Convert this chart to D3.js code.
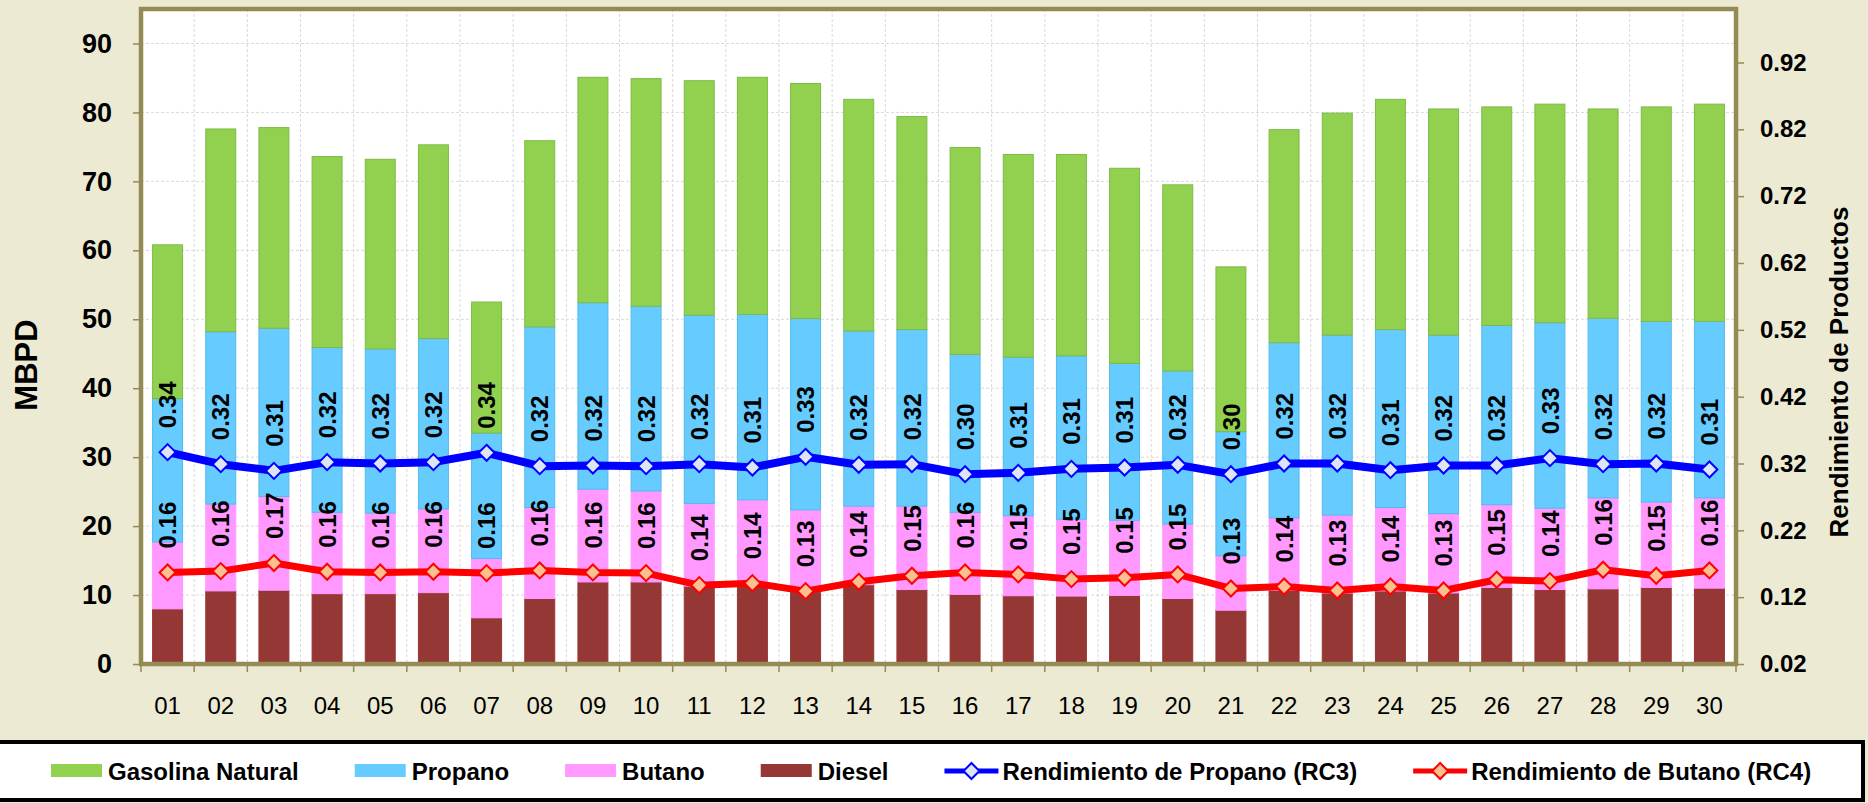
<!DOCTYPE html>
<html>
<head>
<meta charset="utf-8">
<script src="https://cdn.jsdelivr.net/npm/d3@7"></script>
<style>
  html, body { margin: 0; padding: 0; background: #ECEAD3; }
  svg { display: block; font-family: "Liberation Sans", Arial, sans-serif; }
</style>
</head>
<body>
<script>
// ---- data ----
const days = ["01","02","03","04","05","06","07","08","09","10","11","12","13","14","15",
              "16","17","18","19","20","21","22","23","24","25","26","27","28","29","30"];

const diesel   = [8.0,10.6,10.7,10.2,10.2,10.35,6.7,9.5,11.9,11.9,11.3,11.3,10.5,11.5,10.8,
                  10.1,9.9,9.85,9.95,9.5,7.8,10.7,10.3,10.6,10.3,11.1,10.8,10.9,11.1,11.0];
const butano   = [9.7,12.6,13.6,11.8,11.7,12.15,8.6,13.2,13.45,13.2,12.0,12.5,11.85,11.4,12.1,
                  11.9,11.6,11.15,10.9,10.8,7.9,10.5,11.3,12.1,11.5,12.0,11.8,13.2,12.4,13.1];
const propano  = [20.8,25.0,24.4,23.9,23.8,24.7,18.2,26.2,27.05,26.8,27.3,26.9,27.75,25.4,25.6,
                  22.9,23.0,23.7,22.75,22.2,18.0,25.4,26.1,25.8,25.9,26.0,26.9,26.05,26.2,25.6];
const gasolina = [22.3,29.4,29.1,27.7,27.5,28.1,19.0,27.0,32.7,33.0,34.0,34.4,34.1,33.6,30.9,
                  30.0,29.4,29.2,28.3,27.0,23.9,30.9,32.2,33.4,32.8,31.7,31.7,30.35,31.1,31.5];

const rc3 = [0.337,0.319,0.309,0.322,0.320,0.322,0.336,0.316,0.317,0.316,0.319,0.314,0.330,0.318,0.319,
             0.304,0.306,0.312,0.314,0.318,0.304,0.320,0.320,0.310,0.317,0.317,0.328,0.319,0.320,0.311];
const rc4 = [0.157,0.159,0.171,0.158,0.157,0.158,0.156,0.160,0.157,0.156,0.138,0.141,0.129,0.143,0.152,
             0.157,0.154,0.147,0.149,0.154,0.133,0.136,0.130,0.136,0.130,0.146,0.144,0.161,0.152,0.160];

const leftTicks  = [0,10,20,30,40,50,60,70,80,90];
const rightTicks = [0.02,0.12,0.22,0.32,0.42,0.52,0.62,0.72,0.82,0.92];

const barSeries = [
  { key: "diesel",   name: "Diesel",           values: diesel,   fill: "#953735", edge: "#953735" },
  { key: "butano",   name: "Butano",           values: butano,   fill: "#FF99FF", edge: "#FF99FF" },
  { key: "propano",  name: "Propano",          values: propano,  fill: "#66CCFF", edge: "#55B8EC" },
  { key: "gasolina", name: "Gasolina Natural", values: gasolina, fill: "#92D050", edge: "#7DBB44" }
];
const lineSeries = [
  { name: "Rendimiento de Propano (RC3)", values: rc3, stroke: "#0000FF", width: 8, marker: "#DCE6F2" },
  { name: "Rendimiento de Butano (RC4)",  values: rc4, stroke: "#FF0000", width: 7, marker: "#FAC090" }
];
const legendOrder = ["Gasolina Natural", "Propano", "Butano", "Diesel",
                     "Rendimiento de Propano (RC3)", "Rendimiento de Butano (RC4)"];

// ---- layout ----
const WIDTH = 1868, HEIGHT = 803;
const PLOT = { left: 141, right: 1736, top: 9, bottom: 664 };

const svg = d3.select("body").append("svg")
  .attr("width", WIDTH).attr("height", HEIGHT)
  .attr("viewBox", `0 0 ${WIDTH} ${HEIGHT}`);

svg.append("rect").attr("width", WIDTH).attr("height", HEIGHT).attr("fill", "#ECEAD3");

const x = d3.scaleBand().domain(days).range([PLOT.left, PLOT.right])
  .paddingInner(0.436).paddingOuter(0.218);
const step = x.step();
const xEdge = d => PLOT.left + days.indexOf(d) * step; // category boundary

const yL = d3.scaleLinear().domain([0, 95]).range([PLOT.bottom, PLOT.top]);
const yR = d3.scaleLinear().domain([0.02, 1.0]).range([PLOT.bottom, PLOT.top]);

// plot background
svg.append("rect")
  .attr("x", PLOT.left).attr("y", PLOT.top)
  .attr("width", PLOT.right - PLOT.left).attr("height", PLOT.bottom - PLOT.top)
  .attr("fill", "#fff");

// grid
const grid = svg.append("g").attr("stroke", "#D9D9D9").attr("stroke-width", 1)
  .attr("stroke-dasharray", "3,2");
grid.selectAll("line.h").data(leftTicks.slice(1)).join("line")
  .attr("x1", PLOT.left).attr("x2", PLOT.right)
  .attr("y1", d => yL(d)).attr("y2", d => yL(d));
grid.selectAll("line.v").data(days.slice(1)).join("line")
  .attr("x1", d => xEdge(d)).attr("x2", d => xEdge(d))
  .attr("y1", PLOT.top).attr("y2", PLOT.bottom);

// ---- stacked bars ----
const table = days.map((d, i) => {
  const row = { day: d };
  barSeries.forEach(s => row[s.key] = s.values[i]);
  return row;
});
const stacked = d3.stack().keys(barSeries.map(s => s.key))(table);

svg.append("g").selectAll("g").data(stacked).join("g")
  .attr("fill", (d, i) => barSeries[i].fill)
  .attr("stroke", (d, i) => barSeries[i].edge)
  .attr("stroke-width", 1)
  .selectAll("rect").data(d => d).join("rect")
  .attr("x", d => x(d.data.day))
  .attr("width", x.bandwidth())
  .attr("y", d => yL(d[1]))
  .attr("height", d => yL(d[0]) - yL(d[1]));

// ---- plot border ----
svg.append("rect")
  .attr("x", PLOT.left).attr("y", PLOT.top)
  .attr("width", PLOT.right - PLOT.left).attr("height", PLOT.bottom - PLOT.top)
  .attr("fill", "none").attr("stroke", "#948A54").attr("stroke-width", 4.5);

// ---- axes ----
const axisL = svg.append("g").attr("transform", `translate(${PLOT.left - 2},0)`)
  .call(d3.axisLeft(yL).tickValues(leftTicks).tickSize(6).tickPadding(21).tickFormat(d3.format("d")));
const axisR = svg.append("g").attr("transform", `translate(${PLOT.right + 2},0)`)
  .call(d3.axisRight(yR).tickValues(rightTicks).tickSize(6).tickPadding(16).tickFormat(d3.format(".2f")));
const axisB = svg.append("g").attr("transform", `translate(0,${PLOT.bottom + 2})`)
  .call(d3.axisBottom(x).tickSize(0).tickPadding(31));

[axisL, axisR, axisB].forEach(a => {
  a.select(".domain").remove();
  a.selectAll(".tick line").attr("stroke", "#948A54").attr("stroke-width", 1.5);
  a.selectAll("text").attr("fill", "#000");
});
axisL.selectAll("text").attr("font-size", 27).attr("font-weight", "bold");
axisR.selectAll("text").attr("font-size", 24).attr("font-weight", "bold");
axisB.selectAll("text").attr("font-size", 24);

// category boundary ticks below the plot
svg.append("g").selectAll("line").data(days.concat(["end"])).join("line")
  .attr("x1", (d, i) => PLOT.left + i * step).attr("x2", (d, i) => PLOT.left + i * step)
  .attr("y1", PLOT.bottom + 2).attr("y2", PLOT.bottom + 8)
  .attr("stroke", "#948A54").attr("stroke-width", 1.5);

// axis titles
svg.append("text")
  .attr("transform", "translate(26,365) rotate(-90)")
  .attr("text-anchor", "middle").attr("dy", "0.35em")
  .attr("font-size", 31).attr("font-weight", "bold").text("MBPD");
svg.append("text")
  .attr("transform", "translate(1839,372) rotate(-90)")
  .attr("text-anchor", "middle").attr("dy", "0.35em")
  .attr("font-size", 26).attr("font-weight", "bold").text("Rendimiento de Productos");

// ---- yield lines ----
const diamond = r => `M0,${-r}L${r},0L0,${r}L${-r},0Z`;
const cx = d => x(d) + x.bandwidth() / 2;

lineSeries.forEach(s => {
  const pts = days.map((d, i) => [cx(d), yR(s.values[i])]);
  svg.append("path")
    .attr("d", d3.line()(pts))
    .attr("fill", "none").attr("stroke", s.stroke).attr("stroke-width", s.width)
    .attr("stroke-linejoin", "round");
  svg.append("g").selectAll("path").data(pts).join("path")
    .attr("transform", p => `translate(${p[0]},${p[1]})`)
    .attr("d", diamond(8))
    .attr("fill", s.marker).attr("stroke", s.stroke).attr("stroke-width", 2);
  // data labels, rotated, above each point
  svg.append("g").selectAll("text").data(pts).join("text")
    .attr("transform", p => `translate(${p[0]},${p[1] - 24}) rotate(-90)`)
    .attr("dy", "0.36em")
    .attr("font-size", 24).attr("font-weight", "bold").attr("fill", "#000")
    .text((p, i) => s.values[i].toFixed(2));
});

// ---- legend ----
svg.append("rect")
  .attr("x", -3).attr("y", 742).attr("width", 1866).attr("height", 58)
  .attr("fill", "#fff").attr("stroke", "#000").attr("stroke-width", 4);

const legendItems = legendOrder.map(name =>
  barSeries.find(s => s.name === name)
    ? { type: "bar", ...barSeries.find(s => s.name === name) }
    : { type: "line", ...lineSeries.find(s => s.name === name) });

const LEG_Y = 771;
let lx = 51;
const legend = svg.append("g");
legendItems.forEach(item => {
  const g = legend.append("g");
  if (item.type === "bar") {
    g.append("rect").attr("x", lx).attr("y", LEG_Y - 7).attr("width", 51).attr("height", 13)
      .attr("fill", item.fill);
    lx += 57;
  } else {
    g.append("line").attr("x1", lx).attr("x2", lx + 54).attr("y1", LEG_Y).attr("y2", LEG_Y)
      .attr("stroke", item.stroke).attr("stroke-width", 5);
    g.append("path").attr("transform", `translate(${lx + 27},${LEG_Y})`).attr("d", diamond(8))
      .attr("fill", item.marker).attr("stroke", item.stroke).attr("stroke-width", 2);
    lx += 58;
  }
  const t = g.append("text").attr("x", lx).attr("y", LEG_Y).attr("dy", "0.36em")
    .attr("font-size", 24).attr("font-weight", "bold").attr("fill", "#000").text(item.name);
  lx += t.node().getComputedTextLength() + 56;
});
</script>
</body>
</html>
